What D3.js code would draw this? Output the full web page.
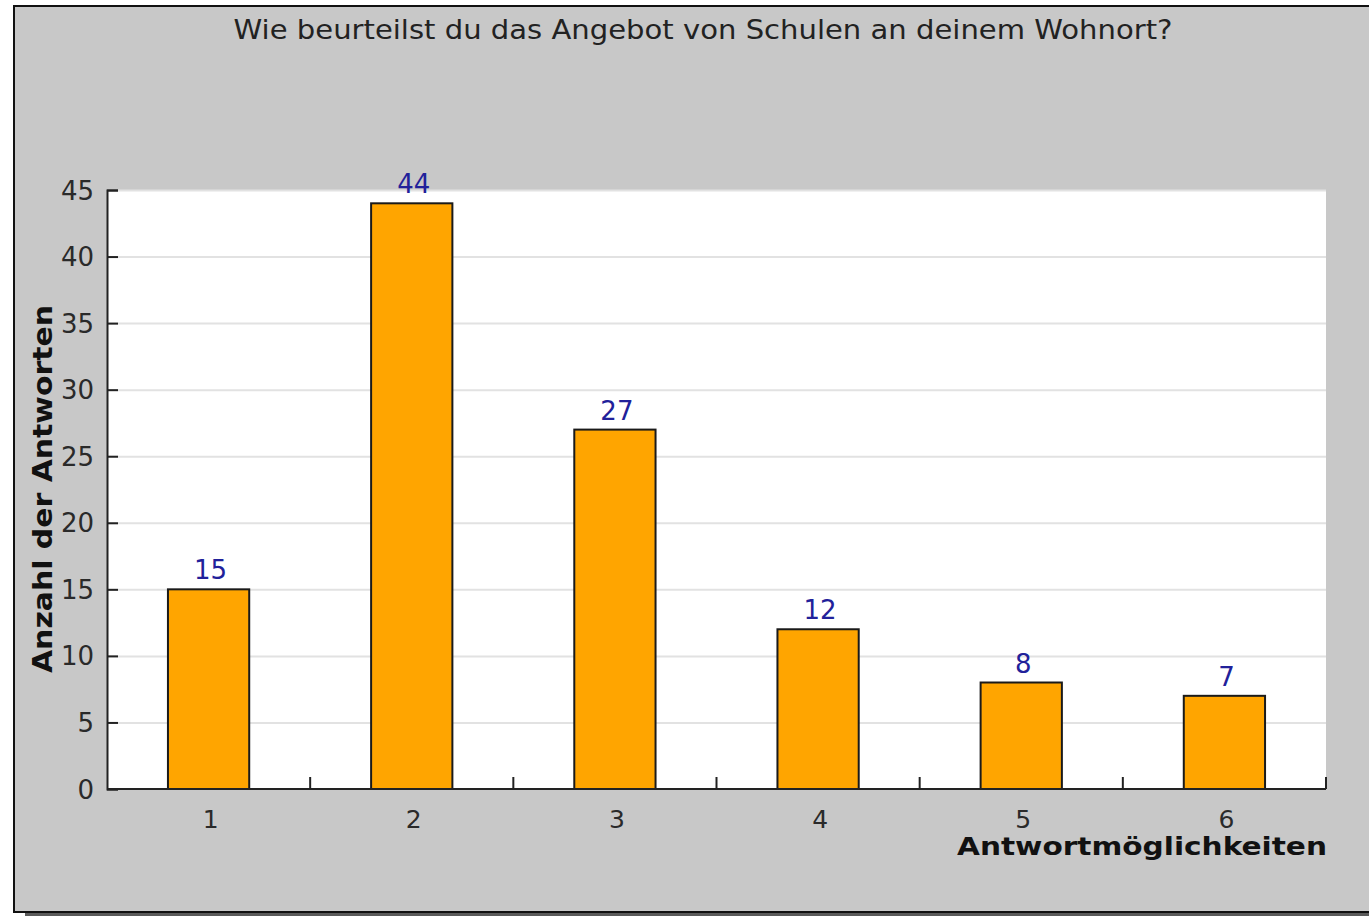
<!DOCTYPE html>
<html>
<head>
<meta charset="utf-8">
<script src="https://cdn.jsdelivr.net/npm/d3@7"></script>
<style>
html,body{margin:0;padding:0;background:#ffffff;}
svg{display:block;}
</style>
</head>
<body>
<svg id="chart" width="1369" height="917"></svg>
<script>
const categories = ["1","2","3","4","5","6"];
const values = [15, 44, 27, 12, 8, 7];
const yTicks = [0,5,10,15,20,25,30,35,40,45];
const titleText = "Wie beurteilst du das Angebot von Schulen an deinem Wohnort?";
const xTitle = "Antwortmöglichkeiten";
const yTitle = "Anzahl der Antworten";

const svg = d3.select("#chart");
const W = 1369, H = 917;
const font = "DejaVu Sans, Verdana, sans-serif";

// shadow + frame
svg.append("rect").attr("x", 25).attr("y", 14).attr("width", W).attr("height", 902).attr("fill", "#5a5a5a");
svg.append("rect").attr("x", 14).attr("y", 6).attr("width", W + 10).attr("height", 906)
  .attr("fill", "#c8c8c8").attr("stroke", "#111").attr("stroke-width", 2);

const plot = {left: 107, right: 1326, top: 190, bottom: 789};

const x = d3.scaleBand().domain(categories).range([plot.left, plot.right]).paddingInner(0).paddingOuter(0);
const y = d3.scaleLinear().domain([0, 45]).range([plot.bottom, plot.top]);

// plot background
svg.append("rect").attr("x", plot.left).attr("y", plot.top)
  .attr("width", plot.right - plot.left).attr("height", plot.bottom - plot.top).attr("fill", "#ffffff");

// gridlines
svg.append("g").selectAll("line").data(yTicks.filter(d => d > 0)).join("line")
  .attr("x1", plot.left).attr("x2", plot.right)
  .attr("y1", d => y(d) + 0.5).attr("y2", d => y(d) + 0.5)
  .attr("stroke", "#e2e2e2").attr("stroke-width", 2);

// bars
const bw = x.bandwidth() * 0.4;
svg.append("g").selectAll("rect").data(values).join("rect")
  .attr("x", (d, i) => x(categories[i]) + x.bandwidth() / 2 - bw / 2)
  .attr("y", d => y(d))
  .attr("width", bw)
  .attr("height", d => y(0) - y(d))
  .attr("fill", "#ffa500").attr("stroke", "#1a1a1a").attr("stroke-width", 2);

// value labels
svg.append("g").selectAll("text").data(values).join("text")
  .attr("x", (d, i) => x(categories[i]) + x.bandwidth() / 2 + 2)
  .attr("y", d => y(d) - 10)
  .attr("text-anchor", "middle")
  .attr("font-family", font).attr("font-size", 26)
  .attr("fill", "#21219a")
  .text(d => d);

// y axis
const yAxis = d3.axisLeft(y).tickValues(yTicks).tickSize(-11).tickPadding(13);
const gy = svg.append("g").attr("transform", `translate(${plot.left},0)`).call(yAxis);
gy.select(".domain").attr("stroke", "#222").attr("stroke-width", 2);
gy.selectAll(".tick line").attr("stroke", "#222").attr("stroke-width", 2);
gy.selectAll(".tick text").attr("font-family", font).attr("font-size", 26).attr("fill", "#2a2a2a").attr("dy", "0.35em");

// x axis
const boundaries = categories.map((c) => x(c) + x.bandwidth());
const gx = svg.append("g").attr("transform", `translate(0,${plot.bottom})`);
gx.append("line").attr("x1", plot.left).attr("x2", plot.right).attr("y1", 0).attr("y2", 0)
  .attr("stroke", "#222").attr("stroke-width", 2);
gx.selectAll("line.tk").data(boundaries).join("line").attr("class", "tk")
  .attr("x1", d => d).attr("x2", d => d).attr("y1", 0).attr("y2", -12)
  .attr("stroke", "#222").attr("stroke-width", 2);
gx.selectAll("text").data(categories).join("text")
  .attr("x", d => x(d) + x.bandwidth() / 2 + 2)
  .attr("y", 39)
  .attr("text-anchor", "middle")
  .attr("font-family", font).attr("font-size", 25).attr("fill", "#2a2a2a")
  .text(d => d);

// title
svg.append("text").attr("x", 703).attr("y", 39).attr("text-anchor", "middle")
  .attr("font-family", font).attr("font-size", 27).attr("fill", "#222")
  .attr("textLength", 939).attr("lengthAdjust", "spacingAndGlyphs").text(titleText);

// axis titles
svg.append("text").attr("x", plot.right + 1).attr("y", 855).attr("text-anchor", "end")
  .attr("font-family", font).attr("font-size", 25).attr("font-weight", "bold").attr("fill", "#111")
  .attr("textLength", 370).attr("lengthAdjust", "spacingAndGlyphs").text(xTitle);
svg.append("text").attr("transform", "translate(52,489) rotate(-90)").attr("text-anchor", "middle")
  .attr("font-family", font).attr("font-size", 27).attr("font-weight", "bold").attr("fill", "#111")
  .attr("textLength", 368).attr("lengthAdjust", "spacingAndGlyphs").text(yTitle);
</script>
</body>
</html>
